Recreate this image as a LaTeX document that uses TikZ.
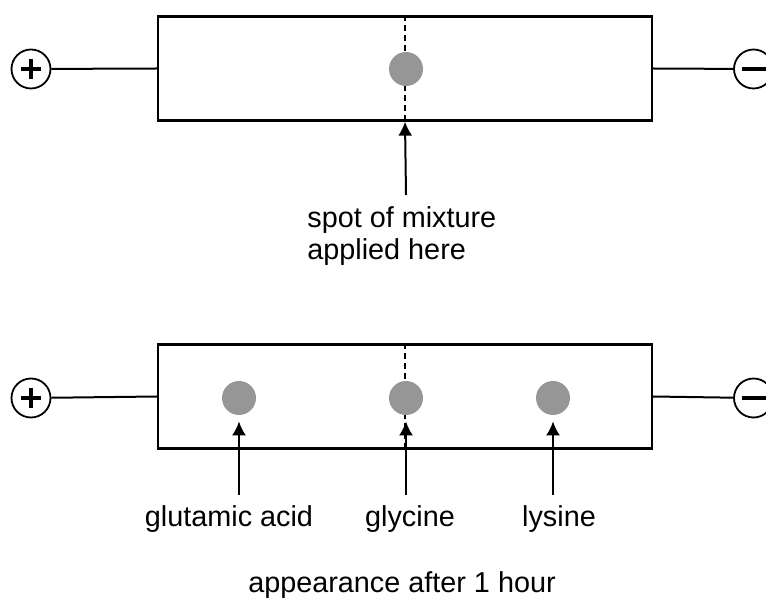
\documentclass[tikz,border=0pt]{standalone}
\usepackage{fontspec}
\setmainfont{Liberation Sans}
\usetikzlibrary{arrows.meta,positioning}
\definecolor{spotgray}{RGB}{150,150,150}
\tikzset{>={Latex[length=7pt,width=7pt]}}
\tikzset{font=\fontsize{14.4}{16}\selectfont}
\tikzset{
  strip/.style={draw, line width=1.1pt, minimum width=247pt, minimum height=52pt, inner sep=0pt},
  spot/.style={circle, fill=spotgray, minimum size=17pt, inner sep=0pt},
  pole/.style={draw, circle, line width=0.9pt, minimum size=19.5pt, inner sep=0pt},
  anode/.style={pole, path picture={
      \draw[line width=1.8pt] ([xshift=-5pt]path picture bounding box.center) -- ([xshift=5pt]path picture bounding box.center);
      \draw[line width=1.8pt] ([yshift=-5pt]path picture bounding box.center) -- ([yshift=5pt]path picture bounding box.center);}},
  cathode/.style={pole, path picture={
      \draw[line width=1.8pt] ([xshift=-6pt]path picture bounding box.center) -- ([xshift=6pt]path picture bounding box.center);}},
  wire/.style={line width=1pt},
  pointer/.style={->, line width=1pt},
  midline/.style={dash pattern=on 3pt off 2pt, line width=1pt},
}
\begin{document}
\begin{tikzpicture}[x=0.5pt, y=-0.5pt]
  \useasboundingbox (0,0) rectangle (766,598);
  % before: the spot at the start line
  \node[strip] (top) at (405,68.5) {};
  \node[anode] (plusA) at (31,69) {};
  \node[cathode] (minusA) at (753.5,69) {};
  \draw[wire] (plusA) -- (top.west);
  \draw[wire] (top.east) -- (minusA);
  \draw[midline] (top.north) -- (top.south);
  \node[spot] (mix) at (406,69) {};
  \coordinate (mixfoot) at (406,195);
  \draw[pointer] (mixfoot) -- (top.south);
  \node[anchor=north west, align=left, inner sep=0pt] (mixlabel) at (307,206)
    {spot of mixture\\applied here};

  % after: three separated spots
  \node[strip] (bot) at (405,396.5) {};
  \node[anode] (plusB) at (31,398) {};
  \node[cathode] (minusB) at (753.5,398) {};
  \draw[wire] (plusB) -- (bot.west);
  \draw[wire] (bot.east) -- (minusB);
  \draw[midline] (bot.north) -- (bot.south);
  \foreach \name/\x in {glu/239, gly/406, lys/553} {
    \node[spot] (\name) at (\x,398) {};
    \coordinate (\name foot) at (\x,495);
    \draw[pointer, shorten >=3pt] (\name foot) -- (\name.south);
  }
  \node[anchor=base] (glulabel) at (229,527) {glutamic acid};
  \node[anchor=base] (glylabel) at (410,527) {glycine};
  \node[anchor=base] (lyslabel) at (559,527) {lysine};
  \node[anchor=base] (caption) at (402,592) {appearance after 1 hour};
\end{tikzpicture}
\end{document}
